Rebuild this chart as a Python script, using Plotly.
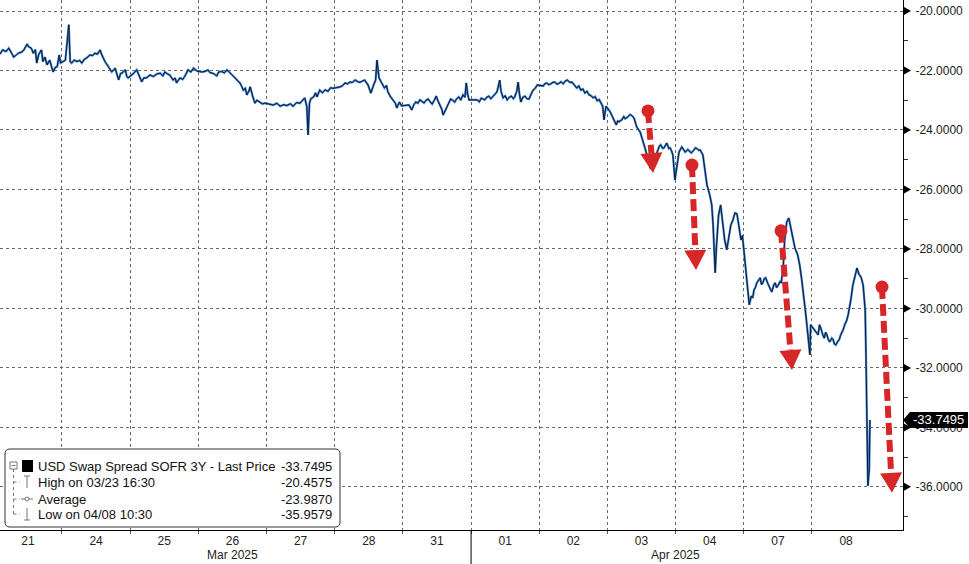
import math
import plotly.graph_objects as go

# ---------------- data ----------------
day_labels = ["21", "24", "25", "26", "27", "28", "31", "01", "02", "03", "04", "07", "08"]
month_labels = ["Mar 2025", "Apr 2025"]
month_centers = [3.5, 10.0]          # in trading-day units
month_split = 7                      # boundary between Mar and Apr

# time in trading-day units (day index + fraction of the session), value of the spread
t = [
    0.09, 0.13, 0.18, 0.22, 0.27, 0.29, 0.33, 0.36, 0.41, 0.44, 0.49, 0.51, 0.55, 0.58, 0.61, 0.63, 0.66, 0.70, 0.72, 0.75, 0.78, 0.82, 0.87, 0.90, 0.93, 0.96, 0.98,
    1.05, 1.10, 1.12, 1.14, 1.18, 1.22, 1.26, 1.29, 1.33, 1.36, 1.41, 1.45, 1.48, 1.52, 1.56, 1.58, 1.61, 1.63, 1.68, 1.73, 1.78, 1.81, 1.83, 1.86, 1.88, 1.93, 1.95, 1.97,
    2.05, 2.095, 2.13, 2.17, 2.20, 2.24, 2.29, 2.34, 2.39, 2.44, 2.48, 2.51, 2.55, 2.58, 2.63, 2.66, 2.68, 2.73, 2.77, 2.80, 2.85, 2.89, 2.93, 2.96, 2.98,
    3.05, 3.10, 3.14, 3.17, 3.22, 3.27, 3.30, 3.34, 3.38, 3.42, 3.46, 3.50, 3.54, 3.58, 3.61, 3.64, 3.66, 3.69, 3.71, 3.74, 3.76, 3.80, 3.83, 3.86, 3.90, 3.94, 3.98,
    4.06, 4.10, 4.15, 4.20, 4.25, 4.30, 4.35, 4.39, 4.44, 4.49, 4.53, 4.56, 4.59, 4.61, 4.63, 4.65, 4.69, 4.72, 4.74, 4.78, 4.82, 4.86, 4.90, 4.94, 4.975,
    5.08, 5.12, 5.15, 5.19, 5.22, 5.26, 5.30, 5.34, 5.37, 5.41, 5.44, 5.49, 5.53, 5.57, 5.60, 5.62, 5.65, 5.69, 5.73, 5.76, 5.78, 5.82, 5.86, 5.89, 5.91, 5.95, 5.98,
    6.09, 6.13, 6.16, 6.19, 6.22, 6.25, 6.28, 6.31, 6.34, 6.37, 6.40, 6.43, 6.46, 6.49, 6.51, 6.54, 6.57, 6.59, 6.62, 6.65, 6.68, 6.70, 6.73, 6.76, 6.79, 6.82, 6.85, 6.88, 6.91, 6.93, 6.95, 6.97,
    7.09, 7.12, 7.15, 7.18, 7.20, 7.23, 7.26, 7.29, 7.32, 7.35, 7.38, 7.42, 7.44, 7.47, 7.50, 7.53, 7.56, 7.59, 7.62, 7.64, 7.67, 7.69, 7.71, 7.73, 7.76, 7.79, 7.82, 7.85, 7.88, 7.91, 7.94, 7.97,
    8.06, 8.08, 8.11, 8.14, 8.17, 8.20, 8.23, 8.26, 8.29, 8.32, 8.35, 8.38, 8.41, 8.45, 8.48, 8.51, 8.55, 8.58, 8.61, 8.64, 8.67, 8.70, 8.73, 8.76, 8.79, 8.82, 8.85, 8.88, 8.91, 8.93, 8.95, 8.98,
    9.04, 9.08, 9.11, 9.13, 9.15, 9.17, 9.21, 9.24, 9.26, 9.30, 9.33, 9.35, 9.39, 9.43, 9.48, 9.52, 9.55, 9.57, 9.59, 9.61, 9.63, 9.65, 9.68, 9.70, 9.72, 9.74, 9.76, 9.78, 9.81, 9.83, 9.85, 9.87, 9.90, 9.92, 9.94, 9.96, 9.99,
    10.05, 10.09, 10.12, 10.14, 10.18, 10.21, 10.23, 10.27, 10.29, 10.31, 10.34, 10.36, 10.40, 10.43, 10.46, 10.50, 10.53, 10.55, 10.56, 10.58, 10.60, 10.63, 10.66, 10.69, 10.72, 10.75, 10.78, 10.81, 10.84, 10.87, 10.90, 10.93, 10.96, 10.98,
    11.08, 11.11, 11.13, 11.15, 11.17, 11.19, 11.22, 11.24, 11.26, 11.28, 11.30, 11.32, 11.35, 11.37, 11.39, 11.41, 11.44, 11.46, 11.48, 11.50, 11.53, 11.55, 11.58, 11.60, 11.63, 11.66, 11.69, 11.72, 11.75, 11.79, 11.82, 11.85, 11.88, 11.91, 11.94, 11.97, 11.98,
    12.09, 12.11, 12.13, 12.16, 12.18, 12.20, 12.22, 12.24, 12.26, 12.29, 12.31, 12.33, 12.35, 12.38, 12.40, 12.42, 12.44, 12.46, 12.48, 12.51, 12.53, 12.55, 12.57, 12.60, 12.63, 12.66, 12.69, 12.72, 12.75, 12.78, 12.79, 12.81, 12.82, 12.84, 12.85,
]
v = [
    -21.45, -21.31, -21.36, -21.25, -21.45, -21.55, -21.48, -21.42, -21.38, -21.31, -21.11, -21.20, -21.25, -21.42, -21.30, -21.75, -21.45, -21.31, -21.70, -21.55, -21.81, -21.65, -22.05, -21.90, -21.87, -21.48, -21.75,
    -21.65, -20.46, -21.70, -21.75, -21.65, -21.70, -21.66, -21.75, -21.62, -21.58, -21.48, -21.50, -21.42, -21.45, -21.31, -21.45, -21.60, -21.70, -21.87, -22.05, -21.92, -22.15, -22.32, -22.10, -22.09, -21.98, -22.20, -22.25,
    -22.10, -21.98, -22.20, -22.38, -22.25, -22.25, -22.15, -22.20, -22.12, -22.09, -22.18, -22.05, -22.12, -22.15, -22.32, -22.25, -22.42, -22.25, -22.30, -22.20, -21.98, -22.05, -21.92, -22.00, -22.02,
    -22.05, -22.03, -21.98, -22.07, -22.10, -22.18, -22.05, -22.03, -22.08, -21.98, -22.07, -22.15, -22.25, -22.35, -22.42, -22.55, -22.66, -22.60, -22.82, -22.70, -22.55, -22.89, -23.10, -23.00, -23.06, -23.12, -23.10,
    -23.15, -23.16, -23.10, -23.20, -23.15, -23.18, -23.12, -23.20, -23.08, -23.10, -23.00, -22.92, -23.20, -24.17, -23.10, -22.95, -22.89, -22.75, -22.89, -22.66, -22.75, -22.65, -22.70, -22.58, -22.60,
    -22.55, -22.50, -22.42, -22.45, -22.39, -22.40, -22.32, -22.38, -22.40, -22.35, -22.32, -22.49, -22.76, -22.49, -22.32, -21.65, -22.25, -22.42, -22.59, -22.50, -22.72, -22.89, -22.99, -23.10, -23.26, -23.06, -23.19,
    -23.16, -23.33, -23.15, -23.06, -23.10, -22.99, -23.05, -23.09, -23.00, -22.96, -23.05, -23.13, -23.00, -22.86, -23.00, -23.16, -23.30, -23.50, -23.35, -23.26, -23.05, -22.96, -23.00, -23.06, -22.95, -22.89, -23.00, -22.82, -22.90, -22.42, -22.80, -22.99,
    -22.99, -23.05, -22.93, -22.97, -22.99, -22.90, -22.86, -22.95, -22.89, -22.80, -22.72, -22.32, -22.70, -22.92, -22.85, -22.99, -22.90, -22.86, -22.95, -22.89, -22.70, -22.39, -22.80, -23.06, -22.90, -22.86, -22.95, -22.96, -22.80, -22.66, -22.60, -22.49,
    -22.52, -22.45, -22.42, -22.48, -22.45, -22.40, -22.39, -22.46, -22.43, -22.38, -22.45, -22.36, -22.32, -22.40, -22.39, -22.48, -22.59, -22.52, -22.66, -22.62, -22.76, -22.70, -22.82, -22.85, -22.92, -22.88, -23.02, -22.98, -23.13, -23.20, -23.66, -23.20,
    -23.39, -23.60, -23.75, -23.83, -23.70, -23.72, -23.66, -23.55, -23.62, -23.56, -23.48, -23.50, -23.60, -23.90, -24.07, -24.34, -24.60, -24.77, -24.95, -25.01, -25.30, -25.24, -25.10, -25.01, -24.80, -24.67, -24.55, -24.50, -24.62, -24.60, -24.50, -24.44, -24.62, -24.60, -24.70, -24.84, -25.68,
    -24.74, -24.57, -24.65, -24.74, -24.66, -24.72, -24.77, -24.67, -24.60, -24.62, -24.68, -24.67, -24.84, -25.34, -25.85, -26.18, -26.52, -27.20, -27.70, -28.80, -27.87, -26.86, -26.52, -27.19, -27.70, -28.03, -27.53, -27.20, -27.03, -26.79, -26.82, -27.20, -27.70, -27.55,
    -29.88, -29.58, -29.65, -29.38, -29.30, -29.14, -29.05, -28.97, -29.20, -29.14, -29.00, -28.97, -29.15, -29.28, -29.35, -29.45, -29.20, -29.14, -29.30, -29.24, -29.10, -29.14, -28.54, -27.70, -27.09, -26.96, -27.29, -27.70, -27.97, -28.20, -28.54, -29.04, -29.55, -30.22, -30.89, -31.56, -30.55,
    -30.89, -30.55, -30.66, -30.90, -31.00, -30.80, -30.89, -31.05, -31.13, -31.00, -31.05, -31.20, -31.23, -31.10, -31.05, -30.90, -30.82, -30.70, -30.55, -30.40, -30.22, -30.00, -29.71, -29.21, -28.87, -28.64, -28.85, -28.95, -29.21, -30.05, -31.23, -33.58, -35.96, -35.43, -33.7495,
]

y_tick_vals = [-20, -22, -24, -26, -28, -30, -32, -34, -36]
y_tick_text = ["-20.0000", "-22.0000", "-24.0000", "-26.0000", "-28.0000", "-30.0000", "-32.0000", "-34.0000", "-36.0000"]
y_minor_vals = [-37, -35, -33, -31, -29, -27, -25, -23, -21]

series_name = "USD Swap Spread SOFR 3Y - Last Price"
last_price = -33.7495
last_price_text = "-33.7495"
legend_rows = [
    (series_name, "-33.7495"),
    ("High on 03/23 16:30", "-20.4575"),
    ("Average", "-23.9870"),
    ("Low on 04/08 10:30", "-35.9579"),
]

# annotation arrows: (start t, start value) -> (tip t, tip value)
arrows = [
    ((9.595, -23.36), (9.668, -25.45)),
    ((10.24, -25.18), (10.30, -28.71)),
    ((11.546, -27.39), (11.707, -32.07)),
    ((13.027, -29.28), (13.174, -36.20)),
]

# ---------------- geometry ----------------
W, H = 969, 564
PL, PR, PT, PB = 0, 903, 0, 530
X_RANGE = [0.091, 13.335]
Y_RANGE = [-37.45, -19.63]
FONT = "Liberation Sans"
RED = "#d62628"


def pxx(px):
    return (px - PL) / (PR - PL)


def pxy(py):
    return (PB - py) / (PB - PT)


def d2p(tt, vv):
    px = PL + (tt - X_RANGE[0]) / (X_RANGE[1] - X_RANGE[0]) * (PR - PL)
    py = PT + (Y_RANGE[1] - vv) / (Y_RANGE[1] - Y_RANGE[0]) * (PB - PT)
    return px, py


def p2d(px, py):
    tt = X_RANGE[0] + (px - PL) / (PR - PL) * (X_RANGE[1] - X_RANGE[0])
    vv = Y_RANGE[1] - (py - PT) / (PB - PT) * (Y_RANGE[1] - Y_RANGE[0])
    return tt, vv


def vunits(px):
    return px * (Y_RANGE[1] - Y_RANGE[0]) / (PB - PT)


fig = go.Figure()
# blue body underneath, dark outline on top (Bloomberg bar look)
fig.add_trace(go.Scatter(
    x=t, y=v, mode="lines",
    line=dict(color="#3b82d0", width=2.2),
    showlegend=False, hoverinfo="skip",
))
fig.add_trace(go.Scatter(
    x=t, y=v, mode="lines",
    line=dict(color="#0d1a33", width=1.0),
    showlegend=False, hoverinfo="skip",
))

shapes = []
annotations = []

# month separator below the axis
shapes.append(dict(type="line", xref="x", yref="paper", x0=month_split, x1=month_split,
                   y0=pxy(H), y1=0, line=dict(color="black", width=1)))

# right-axis tick triangles
for tv in y_tick_vals:
    x0, x1 = pxx(904), pxx(911)
    dv = vunits(4)
    shapes.append(dict(type="path", xref="paper", yref="y",
                       path=f"M {x0} {tv - dv} L {x0} {tv + dv} L {x1} {tv} Z",
                       fillcolor="black", line=dict(width=0)))

# last price tag
lp_dv = vunits(8)
shapes.append(dict(type="path", xref="paper", yref="y",
                   path=f"M {pxx(903)} {last_price} L {pxx(910)} {last_price + lp_dv} L {pxx(968)} {last_price + lp_dv} "
                        f"L {pxx(968)} {last_price - lp_dv} L {pxx(910)} {last_price - lp_dv} Z",
                   fillcolor="black", line=dict(width=0), layer="above"))
annotations.append(dict(xref="paper", yref="y", x=pxx(938.5), y=last_price, text=last_price_text,
                        showarrow=False, xanchor="center", yanchor="middle",
                        font=dict(family=FONT, size=13, color="white")))

# red dashed arrows
for (st, sv), (et, ev) in arrows:
    sx, sy = d2p(st, sv)
    ex, ey = d2p(et, ev)
    dx, dy = ex - sx, ey - sy
    L = math.hypot(dx, dy)
    ux, uy = dx / L, dy / L
    nx, ny = -uy, ux
    head_len, head_half = 20, 11
    bx, by = ex - ux * head_len, ey - uy * head_len
    bt, bv = p2d(bx, by)
    shapes.append(dict(type="line", xref="x", yref="y", x0=st, y0=sv, x1=bt, y1=bv,
                       line=dict(color=RED, width=6, dash="12px,5px")))
    p1 = p2d(bx + nx * head_half, by + ny * head_half)
    p2 = p2d(bx - nx * head_half, by - ny * head_half)
    shapes.append(dict(type="path", xref="x", yref="y",
                       path=f"M {et} {ev} L {p1[0]} {p1[1]} L {p2[0]} {p2[1]} Z",
                       fillcolor=RED, line=dict(width=0)))
    shapes.append(dict(type="circle", xref="x", yref="y", xsizemode="pixel", ysizemode="pixel",
                       xanchor=st, yanchor=sv, x0=-6.5, x1=6.5, y0=-6.5, y1=6.5,
                       fillcolor=RED, line=dict(width=0)))

# legend box (rounded)
bx0, bx1, by0, by1, r = 5, 340, 449, 527, 5
path = (f"M {pxx(bx0 + r)} {pxy(by0)} L {pxx(bx1 - r)} {pxy(by0)} "
        f"Q {pxx(bx1)} {pxy(by0)} {pxx(bx1)} {pxy(by0 + r)} L {pxx(bx1)} {pxy(by1 - r)} "
        f"Q {pxx(bx1)} {pxy(by1)} {pxx(bx1 - r)} {pxy(by1)} L {pxx(bx0 + r)} {pxy(by1)} "
        f"Q {pxx(bx0)} {pxy(by1)} {pxx(bx0)} {pxy(by1 - r)} L {pxx(bx0)} {pxy(by0 + r)} "
        f"Q {pxx(bx0)} {pxy(by0)} {pxx(bx0 + r)} {pxy(by0)} Z")
shapes.append(dict(type="path", xref="paper", yref="paper", path=path,
                   fillcolor="white", line=dict(color="#333333", width=1), layer="above"))

rows_y = [466, 482, 499, 514]
GRAY = "#777777"


def pline(x0, y0, x1, y1, color=GRAY, width=1, dash=None):
    ln = dict(color=color, width=width)
    if dash:
        ln["dash"] = dash
    shapes.append(dict(type="line", xref="paper", yref="paper", x0=pxx(x0), y0=pxy(y0),
                       x1=pxx(x1), y1=pxy(y1), line=ln, layer="above"))


# tree glyphs
shapes.append(dict(type="rect", xref="paper", yref="paper", x0=pxx(10), x1=pxx(17),
                   y0=pxy(462), y1=pxy(469), line=dict(color=GRAY, width=1), fillcolor="white", layer="above"))
pline(11.5, 465.5, 15.5, 465.5)
pline(13.5, 469, 13.5, rows_y[3], dash="dot")
for ry in rows_y[1:]:
    pline(13.5, ry, 20, ry, dash="dot")
shapes.append(dict(type="rect", xref="paper", yref="paper", x0=pxx(22), x1=pxx(33),
                   y0=pxy(460), y1=pxy(472), line=dict(width=0), fillcolor="black", layer="above"))
# high glyph
pline(24, 476, 30, 476)
pline(27, 476, 27, 488)
# average glyph
pline(21, 499, 33, 499)
shapes.append(dict(type="circle", xref="paper", yref="paper", x0=pxx(25), x1=pxx(29),
                   y0=pxy(497), y1=pxy(501), line=dict(color=GRAY, width=1), fillcolor="white", layer="above"))
# low glyph
pline(27, 508, 27, 520)
pline(24, 520, 30, 520)

for (lbl, val), ry in zip(legend_rows, rows_y):
    annotations.append(dict(xref="paper", yref="paper", x=pxx(36), y=pxy(ry), text=lbl,
                            showarrow=False, xanchor="left", yanchor="middle",
                            font=dict(family=FONT, size=13, color="#111111")))
    annotations.append(dict(xref="paper", yref="paper", x=pxx(334), y=pxy(ry), text=val,
                            showarrow=False, xanchor="right", yanchor="middle",
                            font=dict(family=FONT, size=13, color="#111111")))

# month labels
for ml, mc in zip(month_labels, month_centers):
    annotations.append(dict(xref="x", yref="paper", x=mc, y=pxy(555), text=ml,
                            showarrow=False, xanchor="center", yanchor="middle",
                            font=dict(family=FONT, size=12, color="#222222")))

fig.update_layout(
    width=W, height=H,
    margin=dict(l=PL, r=W - PR, t=PT, b=H - PB),
    paper_bgcolor="white", plot_bgcolor="white",
    font=dict(family=FONT, size=12, color="#222222"),
    shapes=shapes, annotations=annotations,
    showlegend=False,
    xaxis=dict(
        range=X_RANGE, showgrid=False, zeroline=False,
        tickmode="array", tickvals=[i + 0.5 for i in range(len(day_labels))], ticktext=day_labels,
        ticks="", showline=True, linecolor="black", linewidth=1,
        tickfont=dict(family=FONT, size=12, color="#222222"),
        minor=dict(tickmode="array", tickvals=list(range(1, len(day_labels))),
                   showgrid=True, gridcolor="#6a6a6a", griddash="dot", gridwidth=1,
                   ticks="outside", ticklen=3, tickcolor="#555555"),
    ),
    yaxis=dict(
        range=Y_RANGE, side="right", showgrid=True, gridcolor="#6a6a6a", griddash="dot", gridwidth=1,
        zeroline=False, tickmode="array", tickvals=y_tick_vals, ticktext=y_tick_text,
        ticks="outside", ticklen=9, tickcolor="rgba(0,0,0,0)",
        showline=True, linecolor="black", linewidth=1,
        tickfont=dict(family=FONT, size=12, color="#222222"),
        minor=dict(tickmode="array", tickvals=y_minor_vals, ticks="outside", ticklen=4,
                   tickcolor="#333333", showgrid=False),
    ),
)

fig.write_html("out.html", config={"displayModeBar": False},
               post_script="document.body.style.margin='0';document.body.style.overflow='hidden';")
